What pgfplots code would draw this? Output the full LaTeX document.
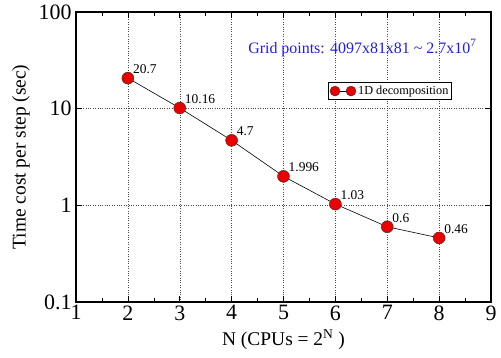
\documentclass[border=0pt]{standalone}
\usepackage{fontspec}
\setmainfont{Liberation Serif}
\usepackage{pgfplots}
\usepackage{pgfplotstable}
\pgfplotsset{compat=1.18}
\definecolor{gblue}{RGB}{30,30,230}
\definecolor{gred}{RGB}{235,0,0}
\pgfplotstableread{
x y label
2 20.7 20.7
3 10.16 10.16
4 4.7 4.7
5 1.996 1.996
6 1.03 1.03
7 0.6 0.6
8 0.46 0.46
}\datatable
\begin{document}
\begin{tikzpicture}
\useasboundingbox (-76bp,-56bp) rectangle (425bp,302bp);
\begin{semilogyaxis}[
  scale only axis,
  width=415bp, height=290bp,
  xmin=1, xmax=9, ymin=0.1, ymax=100,
  xtick={1,...,9},
  minor x tick num=1,
  ytick={0.1,1,10,100},
  yticklabels={0.1,1,10,100},
  log basis y=10,
  tick align=inside,
  major tick length=6bp,
  minor tick length=4.5bp,
  axis line style={line width=1.6pt},
  every tick/.style={black, line width=0.6pt},
  grid=major,
  major grid style={black!70, dotted, line width=0.5pt},
  tick label style={font=\fontsize{22}{22}\selectfont},
  xticklabel style={yshift=0bp},
  yticklabel style={xshift=-1bp},
  /pgf/number format/assume math mode=true,
  xlabel={N (CPUs = 2\textsuperscript{N} )},
  ylabel={Time cost per step (sec)},
  label style={font=\fontsize{19.5}{19.5}\selectfont},
  xlabel style={yshift=-2bp},
  ylabel style={yshift=2bp},
  legend style={at={(rel axis cs:0.607,0.758)}, anchor=north west,
    font=\fontsize{12.3}{12.3}\selectfont, draw=black, line width=0.8pt,
    inner sep=1.5bp, row sep=0pt},
  legend image code/.code={
    \draw[black, line width=0.6pt] (0cm,0cm) -- (16bp,0cm);
    \fill[gred, draw=black!80, line width=0.4pt] (0cm,0cm) circle (5bp);
    \fill[gred, draw=black!80, line width=0.4pt] (16bp,0cm) circle (5bp);
  },
]
\addplot[black, line width=0.6pt, mark=*, mark size=6bp,
  mark options={fill=gred, draw=black!80, line width=0.4pt},
  nodes near coords, point meta=explicit symbolic,
  every node near coord/.style={anchor=south west, font=\fontsize{13.5}{13.5}\selectfont, xshift=2bp, yshift=1bp, inner sep=3bp}]
  table[x=x, y=y, meta=label] {\datatable};
\addlegendentry{1D decomposition}
\node[text=gblue, font=\fontsize{16}{16}\selectfont] at (rel axis cs:0.69,0.876) {Grid points: 4097x81x81 \textasciitilde{} 2.7x10\textsuperscript{7}};
\end{semilogyaxis}
\end{tikzpicture}
\end{document}
